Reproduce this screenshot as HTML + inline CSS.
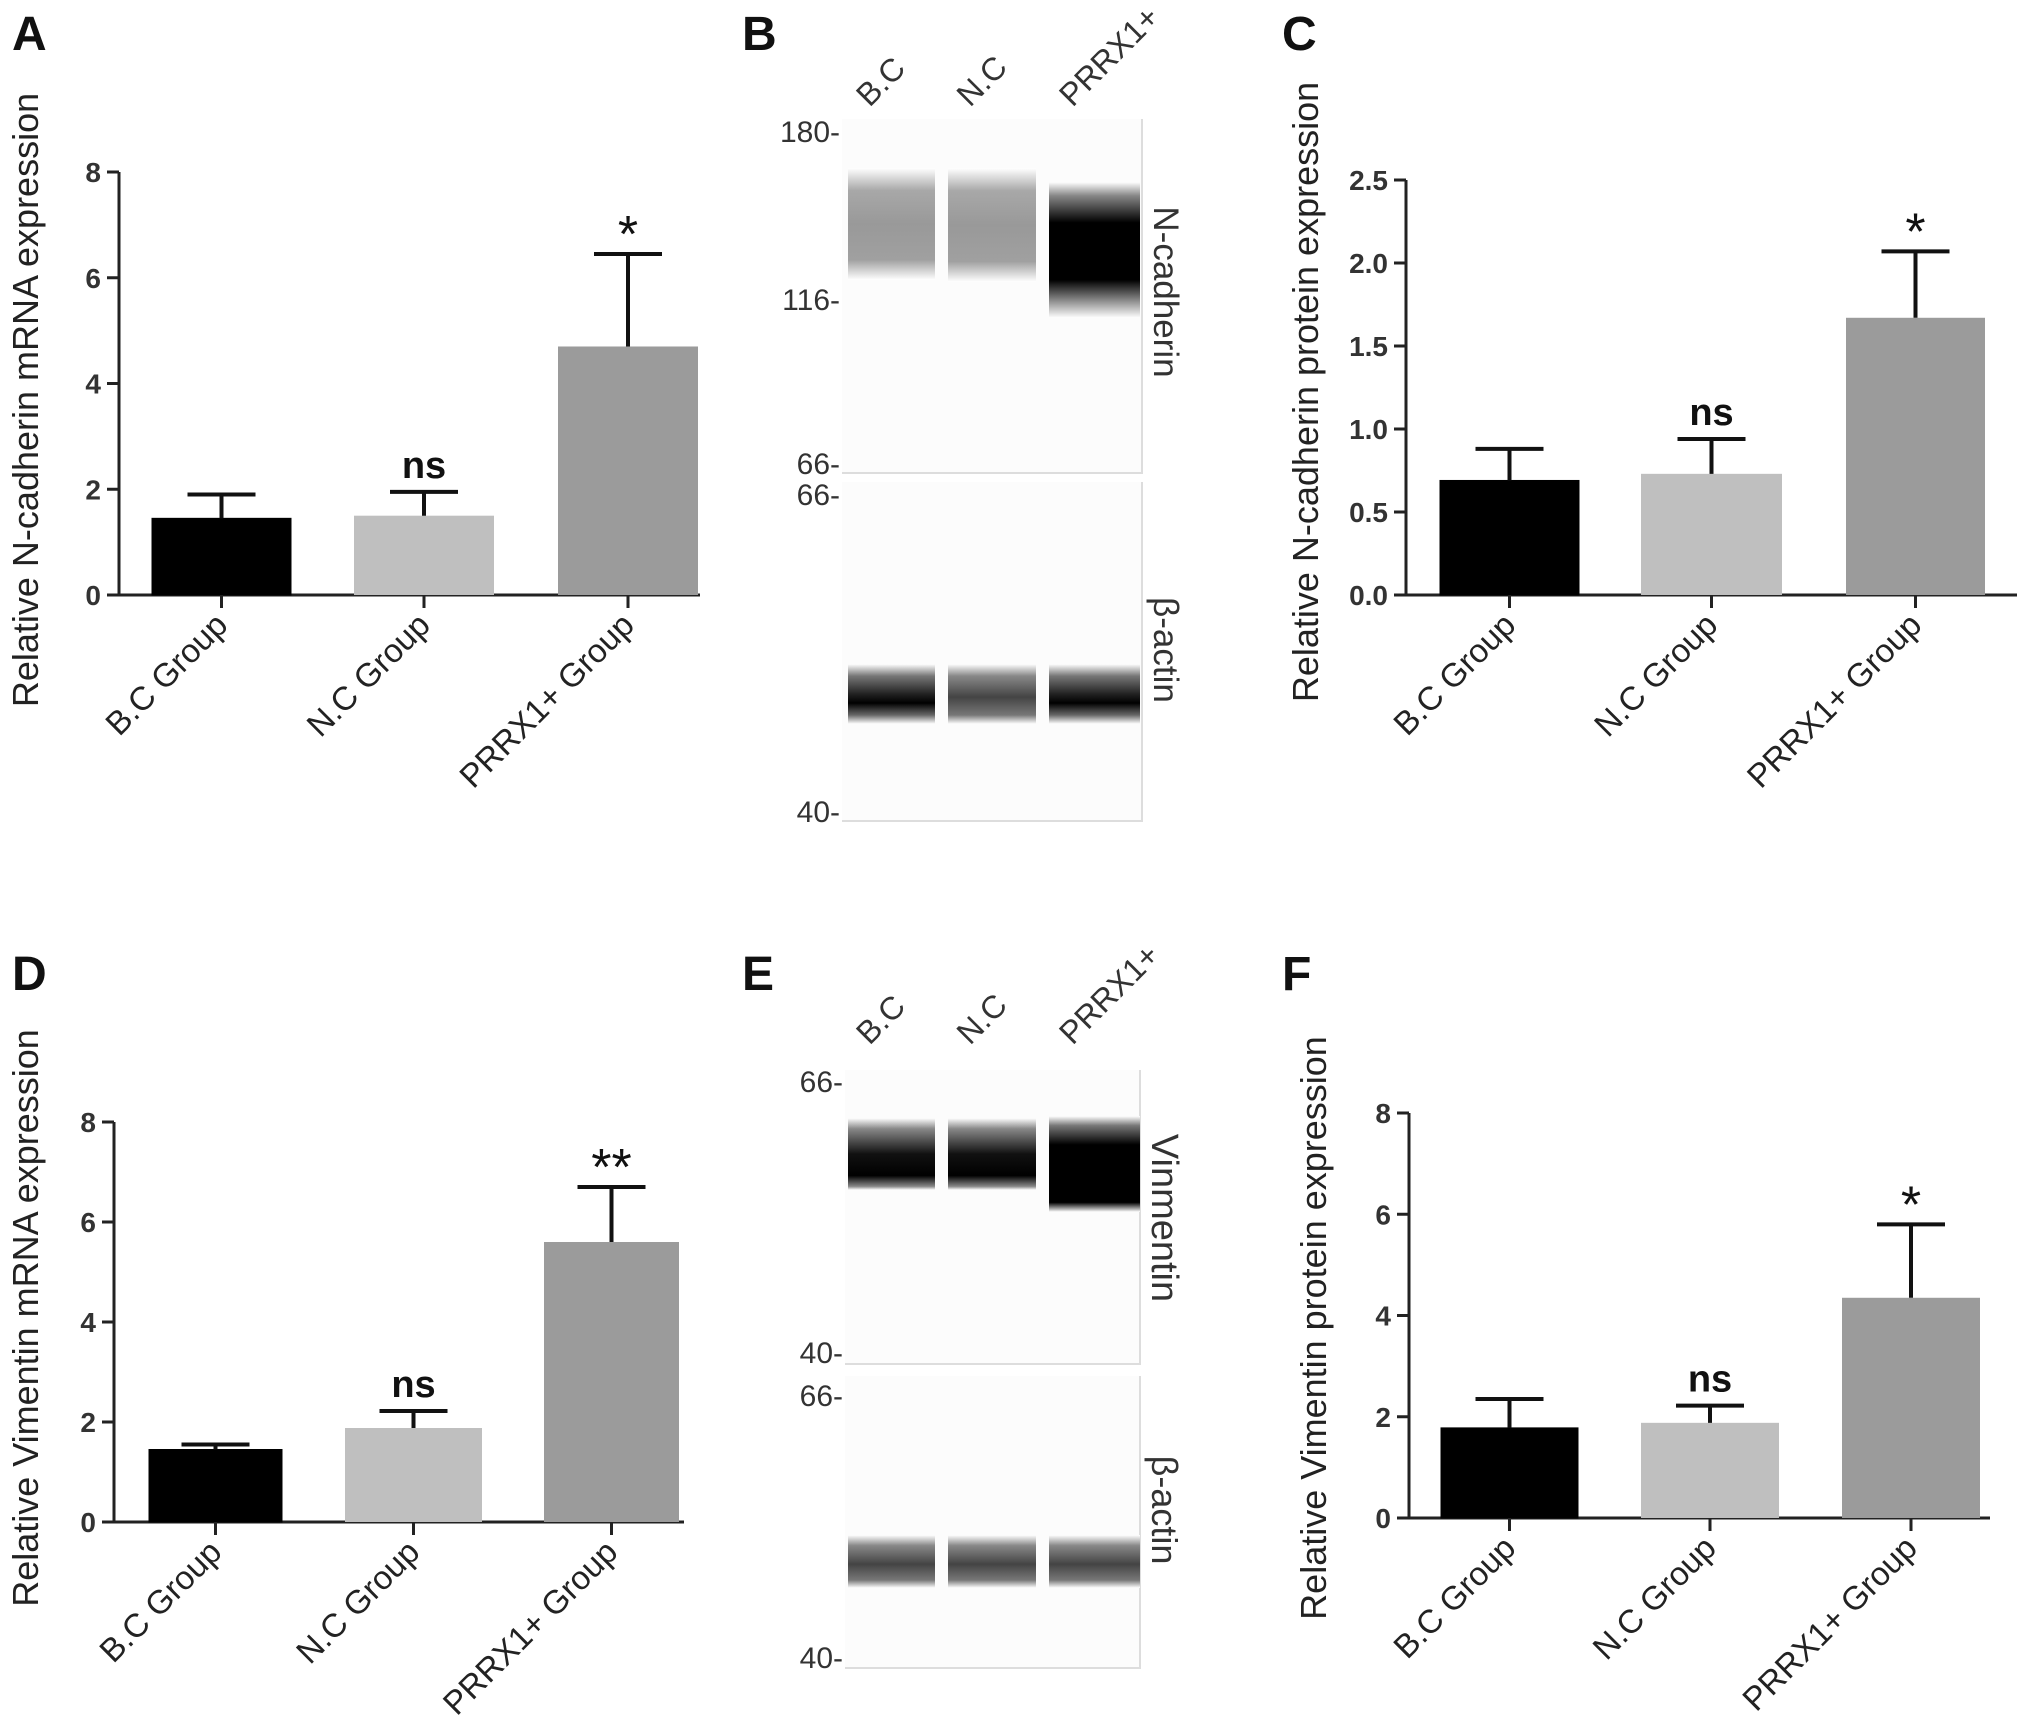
<!DOCTYPE html>
<html><head><meta charset="utf-8"><style>
html,body{margin:0;padding:0;background:#fff}
svg{display:block}
text{font-family:"Liberation Sans",Arial,sans-serif}
</style></head><body>
<svg id="fig" width="2031" height="1724" viewBox="0 0 2031 1724" xmlns="http://www.w3.org/2000/svg">
<defs>
<linearGradient id="gGray" x1="0" y1="0" x2="0" y2="1">
<stop offset="0" stop-color="#fff"/><stop offset="0.2" stop-color="#a8a8a8"/><stop offset="0.5" stop-color="#999"/><stop offset="0.82" stop-color="#a0a0a0"/><stop offset="1" stop-color="#fff"/></linearGradient>
<linearGradient id="gDarkBig" x1="0" y1="0" x2="0" y2="1">
<stop offset="0" stop-color="#fff"/><stop offset="0.1" stop-color="#888"/><stop offset="0.3" stop-color="#000"/><stop offset="0.72" stop-color="#000"/><stop offset="0.85" stop-color="#777"/><stop offset="1" stop-color="#fff"/></linearGradient>
<linearGradient id="gActin" x1="0" y1="0" x2="0" y2="1">
<stop offset="0" stop-color="#fff"/><stop offset="0.2" stop-color="#777"/><stop offset="0.5" stop-color="#222"/><stop offset="0.65" stop-color="#000"/><stop offset="0.85" stop-color="#666"/><stop offset="1" stop-color="#fff"/></linearGradient>
<linearGradient id="gActinL" x1="0" y1="0" x2="0" y2="1">
<stop offset="0" stop-color="#fff"/><stop offset="0.2" stop-color="#888"/><stop offset="0.55" stop-color="#444"/><stop offset="0.85" stop-color="#777"/><stop offset="1" stop-color="#fff"/></linearGradient>
<linearGradient id="gVim" x1="0" y1="0" x2="0" y2="1">
<stop offset="0" stop-color="#fff"/><stop offset="0.15" stop-color="#888"/><stop offset="0.5" stop-color="#111"/><stop offset="0.8" stop-color="#000"/><stop offset="0.95" stop-color="#888"/><stop offset="1" stop-color="#fff"/></linearGradient>
<linearGradient id="gVimBig" x1="0" y1="0" x2="0" y2="1">
<stop offset="0" stop-color="#fff"/><stop offset="0.1" stop-color="#777"/><stop offset="0.3" stop-color="#000"/><stop offset="0.9" stop-color="#000"/><stop offset="1" stop-color="#fff"/></linearGradient>
</defs>
</svg>
<script>
const categories = ["B.C Group","N.C Group","PRRX1+ Group"];
const aValues = [1.45, 1.5, 4.7];
const aErrors = [1.9, 1.95, 6.45];
const aSig = ["", "ns", "*"];
const aTicks = ["0","2","4","6","8"];
const cValues = [0.69, 0.73, 1.67];
const cErrors = [0.88, 0.94, 2.07];
const cSig = ["", "ns", "*"];
const cTicks = ["0.0","0.5","1.0","1.5","2.0","2.5"];
const dValues = [1.45, 1.88, 5.6];
const dErrors = [1.55, 2.22, 6.7];
const dSig = ["", "ns", "**"];
const dTicks = ["0","2","4","6","8"];
const fValues = [1.78, 1.88, 4.35];
const fErrors = [2.35, 2.22, 5.8];
const fSig = ["", "ns", "*"];
const fTicks = ["0","2","4","6","8"];
const barColors = ["#000000","#bfbfbf","#9b9b9b"];

const svg = document.getElementById('fig');
const NS = 'http://www.w3.org/2000/svg';
function mk(tag, attrs, parent){
  const e = document.createElementNS(NS, tag);
  for (const k in attrs) e.setAttribute(k, attrs[k]);
  (parent||svg).appendChild(e); return e;
}
function txt(s, attrs, parent){ const t = mk('text', attrs, parent); t.textContent = s; return t; }

function chart(id, letter, lx, ly, ax, top, bot, right, maxV, ticks, vals, errs, sig, bars, title, tx, ty){
  const g = mk('g', {});
  
  
  const L = txt(letter, {x: lx, y: ly, 'font-size': 48, 'font-weight': 'bold', fill: '#111'}, g);
  
  
  const yS = v => bot - (v / maxV) * (bot - top);
  const ya = mk('line', {x1: ax, y1: top, x2: ax, y2: bot, stroke: '#222', 'stroke-width': 3}, g);
  
  
  const xa = mk('line', {x1: ax, y1: bot, x2: right, y2: bot, stroke: '#222', 'stroke-width': 3}, g);
  
  
  ticks.forEach((t, i) => {
    const v = parseFloat(t); const y = yS(v);
    mk('line', {x1: ax - 12, y1: y, x2: ax, y2: y, stroke: '#222', 'stroke-width': 3}, g);
    const tl = txt(t, {x: ax - 18, y: y + 10, 'font-size': 28, 'font-weight': 'bold', fill: '#333', 'text-anchor': 'end'}, g);
    
    
  });
  vals.forEach((v, i) => {
    const [x0, x1] = bars[i]; const cx = (x0 + x1) / 2;
    const r = mk('rect', {x: x0, y: yS(v), width: x1 - x0, height: bot - yS(v), fill: barColors[i], stroke: i === 0 ? '#000' : 'none'}, g);
    
    
    const eb = mk('path', {d: 'M' + cx + ' ' + yS(v) + 'V' + yS(errs[i]) + 'M' + (cx - 34) + ' ' + yS(errs[i]) + 'H' + (cx + 34), stroke: '#111', 'stroke-width': 4, fill: 'none'}, g);
    
    
    mk('line', {x1: cx, y1: bot, x2: cx, y2: bot + 13, stroke: '#222', 'stroke-width': 3}, g);
    const cl = txt(categories[i], {x: cx + 8, y: bot + 32, 'font-size': 33, fill: '#222', 'text-anchor': 'end', transform: 'rotate(-45 ' + (cx + 8) + ' ' + (bot + 32) + ')'}, g);
    
    
    if (sig[i]) {
      const s = txt(sig[i], {x: cx, y: yS(errs[i]) - (sig[i] === 'ns' ? 14 : 2), 'font-size': sig[i] === 'ns' ? 38 : 52, 'font-weight': sig[i] === 'ns' ? 'bold' : 'normal', fill: '#111', 'text-anchor': 'middle'}, g);
      
      
    }
  });
  const t = txt(title, {x: tx, y: ty, 'font-size': 36, fill: '#222', 'text-anchor': 'middle', transform: 'rotate(-90 ' + tx + ' ' + ty + ')'}, g);
  
  
}

chart('a', 'A', 12, 50, 119, 172, 595, 700, 8, aTicks, aValues, aErrors, aSig, [[152,291],[354,494],[558,698]], 'Relative N-cadherin mRNA expression', 38, 400);
chart('c', 'C', 1282, 50, 1406, 180, 595, 2017, 2.5, cTicks, cValues, cErrors, cSig, [[1440,1579],[1641,1782],[1846,1985]], 'Relative N-cadherin protein expression', 1318, 392);
chart('d', 'D', 12, 990, 114, 1122, 1522, 684, 8, dTicks, dValues, dErrors, dSig, [[149,282],[345,482],[544,679]], 'Relative Vimentin mRNA expression', 38, 1318);
chart('f', 'F', 1282, 990, 1409, 1113, 1518, 1990, 8, fTicks, fValues, fErrors, fSig, [[1441,1578],[1641,1779],[1842,1980]], 'Relative Vimentin protein expression', 1326, 1328);

// Blots
const laneNames = ["B.C","N.C","PRRX1+"];
function blot(id, letter, lx, ly, lanes, headY, panels){
  const g = mk('g', {});
  
  
  const L = txt(letter, {x: lx, y: ly, 'font-size': 48, 'font-weight': 'bold', fill: '#111'}, g);
  
  
  lanes.forEach((ln, i) => {
    const cx = (ln[0] + ln[1]) / 2 + 10;
    const h = txt(laneNames[i], {x: cx - 32, y: headY, 'font-size': 32, fill: '#333', transform: 'rotate(-45 ' + (cx - 32) + ' ' + headY + ')'}, g);
    
    
  });
  panels.forEach(p => {
    mk('rect', {x: p.x0, y: p.y0, width: p.x1 - p.x0, height: p.y1 - p.y0, fill: '#fcfcfc'}, g);
    mk('path', {d: 'M' + p.x0 + ' ' + p.y1 + 'H' + p.x1 + 'V' + p.y0, stroke: '#ddd', 'stroke-width': 2, fill: 'none'}, g);
    p.marks.forEach(m => {
      const ml = txt(m[0], {x: p.x0 - 2, y: m[1] + 10, 'font-size': 30, fill: '#333', 'text-anchor': 'end'}, g);
      
      
    });
    p.bands.forEach((b, i) => {
      const r = mk('rect', {x: lanes[i][0], y: b[0], width: lanes[i][1] - lanes[i][0], height: b[1] - b[0], fill: 'url(#' + b[2] + ')'}, g);
      
      
    });
    const pl = txt(p.label, {x: p.x1 + 12, y: p.ly, 'font-size': p.fs, fill: '#333', 'text-anchor': 'middle', transform: 'rotate(90 ' + (p.x1 + 12) + ' ' + p.ly + ')'}, g);
    
    
  });
}
blot('b', 'B', 742, 50, [[848,935],[948,1036],[1049,1140]], 108, [
  {x0: 842, x1: 1142, y0: 119, y1: 473, label: 'N-cadherin', ly: 292, fs: 35, marks: [['180-',132],['116-',300],['66-',464]],
   bands: [[168,280,'gGray'],[168,282,'gGray'],[182,318,'gDarkBig']]},
  {x0: 842, x1: 1142, y0: 482, y1: 821, label: 'β-actin', ly: 650, fs: 35, marks: [['66-',495],['40-',812]],
   bands: [[664,724,'gActin'],[664,724,'gActinL'],[664,724,'gActin']]}
]);
blot('e', 'E', 742, 990, [[848,935],[948,1036],[1049,1140]], 1046, [
  {x0: 845, x1: 1140, y0: 1070, y1: 1364, label: 'Vinmentin', ly: 1218, fs: 38, marks: [['66-',1082],['40-',1353]],
   bands: [[1118,1190,'gVim'],[1118,1190,'gVim'],[1116,1212,'gVimBig']]},
  {x0: 845, x1: 1140, y0: 1376, y1: 1668, label: 'β-actin', ly: 1510, fs: 36, marks: [['66-',1396],['40-',1658]],
   bands: [[1535,1588,'gActinL'],[1535,1588,'gActinL'],[1535,1588,'gActinL']]}
]);
</script>
</body></html>
